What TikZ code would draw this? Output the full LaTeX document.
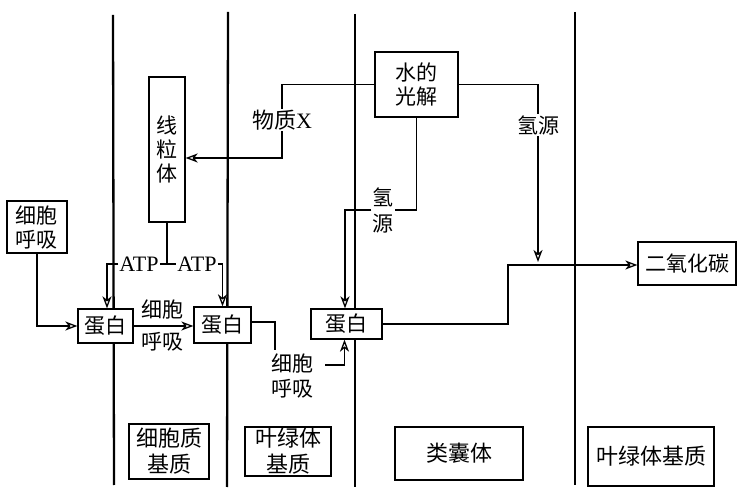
\documentclass[tikz,border=0pt]{standalone}
\usepackage{fontspec}
\setmainfont{Liberation Serif}
\newfontfamily\cjk{Noto Sans CJK SC}
\usetikzlibrary{arrows.meta}
\newcommand\zh[1]{{\cjk #1}}
\begin{document}
\begin{tikzpicture}[x=1pt,y=-1pt,
  wall/.style={line width=2.3pt},
  box/.style={draw, line width=1.3pt, fill=white, inner sep=0pt, align=center,
    font=\cjk\fontsize{21}{24}\selectfont},
  bbox/.style={box, font=\cjk\fontsize{22}{26}\selectfont},
  lab/.style={inner sep=1pt, align=center, font=\fontsize{22}{24}\selectfont},
  line/.style={line width=1.8pt},
  conn/.style={line width=1.8pt, -{Stealth[open,length=12pt,width=9pt,inset=3.5pt,line width=1.3pt]}}]
\useasboundingbox (0,0) rectangle (748,497);
% walls
\draw[wall] (113,15) -- (114,485);
\draw[wall] (228,12) -- (227,487);
\draw[wall] (355,14) -- (355,487);
\draw[wall] (575,12) -- (575,485);
% boxes
\node[box, minimum width=36pt, minimum height=145pt] (mito) at (167,149.5) {线\\粒\\体};
\node[box, minimum width=60pt, minimum height=52pt] (resp) at (37,227) {细胞\\呼吸};
\node[box, minimum width=55pt, minimum height=34pt] (p1) at (105.5,326) {蛋白};
\node[box, minimum width=57pt, minimum height=36pt] (p2) at (222.5,325) {蛋白};
\node[box, minimum width=71pt, minimum height=30pt] (p3) at (346.5,324) {蛋白};
\node[box, minimum width=83pt, minimum height=65pt] (water) at (416.5,84.5) {水的\\光解};
\node[box, minimum width=98pt, minimum height=43pt] (co2) at (687,263.5) {二氧化碳};
\node[bbox, minimum width=80pt, minimum height=55pt] (b1) at (169,451.5) {细胞质\\基质};
\node[bbox, minimum width=86pt, minimum height=49pt] (b2) at (288,451.5) {叶绿体\\基质};
\node[bbox, minimum width=128pt, minimum height=53pt] (b3) at (459,453.5) {类囊体};
\node[bbox, minimum width=126pt, minimum height=59pt] (b4) at (651,456.5) {叶绿体基质};
% labels
\node[lab] (atpL) at (139,264) {ATP};
\node[lab] (atpR) at (197,264) {ATP};
\node[lab] (matX) at (282,120) {\zh{物质}X};
\node[lab, font=\cjk\fontsize{21}{26}\selectfont] (h1) at (383,210) {氢\\源};
\node[lab, font=\cjk\fontsize{21}{24}\selectfont] (h2) at (538,125) {氢源};
\node[lab, font=\cjk\fontsize{21}{24}\selectfont] (r2a) at (162,310) {细胞};
\node[lab, font=\cjk\fontsize{21}{24}\selectfont] (r2b) at (162,342) {呼吸};
\node[lab, font=\cjk\fontsize{21}{25}\selectfont] (r3) at (292,375.5) {细胞\\呼吸};
% helper coordinates
\coordinate (c1) at (275,350);
\coordinate (c2) at (325,365);
\coordinate (yX) at (0,158);
\coordinate (c4) at (538,262);
\coordinate (c5) at (508,265);
\coordinate (y2) at (0,322);
% connectors
\draw[conn] (resp.south) |- (p1.west);
\draw[conn] (p1.east) -- (p2.west |- p1.east);
\draw[line] (mito.south) -- (mito.south |- atpL.east);
\draw[line] (atpL.east) -- (atpR.west);
\draw[conn] (atpL.west) -| ([xshift=1.5pt]p1.north);
\draw[conn] (atpR.east) -| (p2.north);
\draw[line] (p2.east |- y2) -| (c1);
\draw[conn] (c2) -| ([xshift=-2pt]p3.south);
\draw[line] (water.west) -| (matX.north);
\draw[conn] (matX.south) |- (mito.east |- yX);
\draw[line] (water.south) |- (h1.east);
\draw[conn] (h1.west) -| ([xshift=-1.5pt]p3.north);
\draw[line] (water.east) -| (h2.north);
\draw[conn] (h2.south) -- (c4);
\draw[conn] (p3.east) -| (c5) -- (co2.west |- c5);
\end{tikzpicture}
\end{document}
